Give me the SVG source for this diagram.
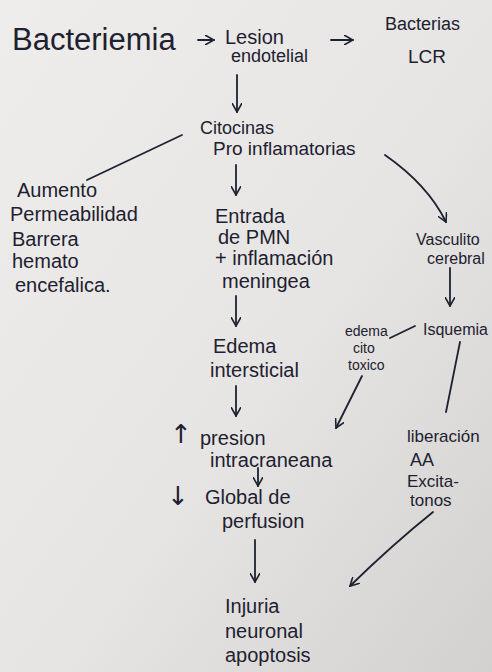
<svg xmlns="http://www.w3.org/2000/svg" width="492" height="672" viewBox="0 0 492 672">
<defs>
<linearGradient id="paper" x1="0" y1="0" x2="1" y2="1">
<stop offset="0" stop-color="#eeedeb"/>
<stop offset="0.55" stop-color="#e6e5e3"/>
<stop offset="1" stop-color="#d2d1cf"/>
</linearGradient>
<marker id="ah" viewBox="0 0 10 10" refX="9" refY="5" markerWidth="10" markerHeight="10" markerUnits="userSpaceOnUse" orient="auto">
<path d="M0,0 L9,5 L0,10" fill="none" stroke="#1e2130" stroke-width="1.6"/>
</marker>
<style>
.t{font-family:"Liberation Sans","DejaVu Sans",sans-serif;fill:#1e2130;}
.c{fill:none;stroke:#1e2130;stroke-width:1.8;stroke-linecap:round;}
.s{font-family:"DejaVu Sans",sans-serif;fill:#1e2130;}
</style>
</defs>
<rect x="0" y="0" width="492" height="672" fill="url(#paper)"/>
<g id="connectors">
<line class="c" x1="198" y1="40" x2="214" y2="40" marker-end="url(#ah)"/>
<line class="c" x1="331" y1="40" x2="353" y2="40" marker-end="url(#ah)"/>
<line class="c" x1="237" y1="75" x2="237" y2="112" marker-end="url(#ah)"/>
<line class="c" x1="182" y1="135" x2="87" y2="180"/>
<line class="c" x1="236" y1="165" x2="236" y2="195" marker-end="url(#ah)"/>
<path class="c" d="M385,155 Q428,185 446,222" marker-end="url(#ah)"/>
<line class="c" x1="236" y1="296" x2="236" y2="326" marker-end="url(#ah)"/>
<line class="c" x1="450" y1="268" x2="450" y2="306" marker-end="url(#ah)"/>
<line class="c" x1="390" y1="338" x2="415" y2="326"/>
<line class="c" x1="460" y1="342" x2="446" y2="412"/>
<line class="c" x1="362" y1="376" x2="336" y2="428" marker-end="url(#ah)"/>
<line class="c" x1="236" y1="386" x2="236" y2="416" marker-end="url(#ah)"/>
<line class="c" x1="258" y1="468" x2="258" y2="486" marker-end="url(#ah)"/>
<line class="c" x1="255" y1="540" x2="255" y2="582" marker-end="url(#ah)"/>
<path class="c" d="M433,512 Q392,545 350,586" marker-end="url(#ah)"/>
</g>
<g id="bacteriemia"><text class="t" x="12" y="50" font-size="31">Bacteriemia</text></g>
<g id="lesion"><text class="t" x="225" y="44" font-size="20">Lesion</text><text class="t" x="231" y="62" font-size="18">endotelial</text></g>
<g id="bacterias"><text class="t" x="385" y="30" font-size="18">Bacterias</text><text class="t" x="408" y="63" font-size="19">LCR</text></g>
<g id="citocinas"><text class="t" x="200" y="134" font-size="18">Citocinas</text><text class="t" x="213" y="155" font-size="19">Pro inflamatorias</text></g>
<g id="aumento"><text class="t" x="17" y="197" font-size="20">Aumento</text><text class="t" x="10" y="221" font-size="20">Permeabilidad</text><text class="t" x="12" y="246" font-size="20">Barrera</text><text class="t" x="12" y="268" font-size="20">hemato</text><text class="t" x="15" y="292" font-size="20">encefalica.</text></g>
<g id="entrada"><text class="t" x="215" y="223" font-size="20">Entrada</text><text class="t" x="218" y="244" font-size="20">de PMN</text><text class="t" x="215" y="265" font-size="20">+ inflamación</text><text class="t" x="222" y="288" font-size="20">meningea</text></g>
<g id="vasculito"><text class="t" x="416" y="245" font-size="16">Vasculito</text><text class="t" x="427" y="264" font-size="16">cerebral</text></g>
<g id="isquemia"><text class="t" x="423" y="335" font-size="16">Isquemia</text></g>
<g id="edema-citotoxico"><text class="t" x="345" y="336" font-size="14">edema</text><text class="t" x="353" y="353" font-size="14">cito</text><text class="t" x="348" y="370" font-size="14">toxico</text></g>
<g id="edema"><text class="t" x="213" y="353" font-size="20">Edema</text><text class="t" x="210" y="377" font-size="20">intersticial</text></g>
<g id="presion"><text class="s" x="170" y="443" font-size="26">↑</text><text class="t" x="200" y="445" font-size="20">presion</text><text class="t" x="210" y="467" font-size="20">intracraneana</text></g>
<g id="global"><text class="s" x="167" y="505" font-size="26">↓</text><text class="t" x="205" y="504" font-size="20">Global de</text><text class="t" x="222" y="528" font-size="20">perfusion</text></g>
<g id="liberacion"><text class="t" x="407" y="442" font-size="17">liberación</text><text class="t" x="410" y="466" font-size="18">AA</text><text class="t" x="407" y="487" font-size="17">Excita-</text><text class="t" x="410" y="506" font-size="17">tonos</text></g>
<g id="injuria"><text class="t" x="225" y="613" font-size="20">Injuria</text><text class="t" x="225" y="638" font-size="20">neuronal</text><text class="t" x="225" y="662" font-size="20">apoptosis</text></g>
</svg>
